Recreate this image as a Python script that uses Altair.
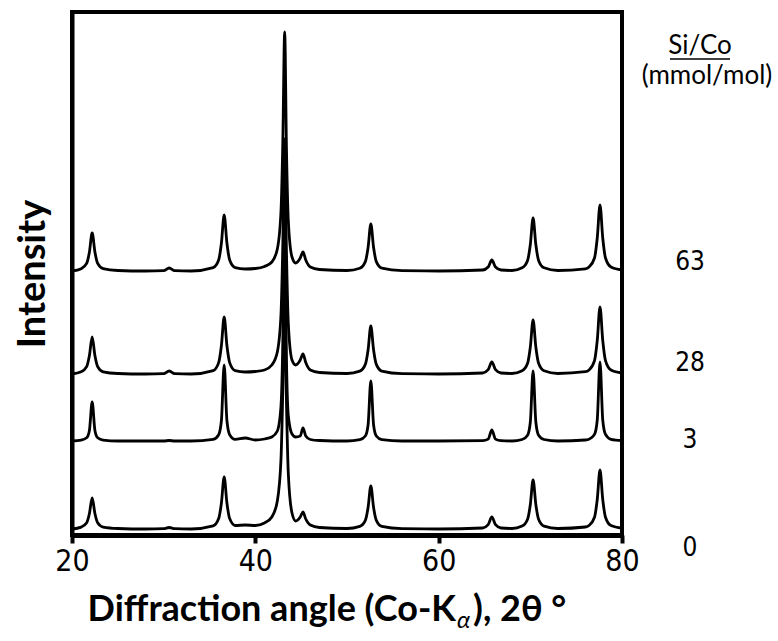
import altair as alt
import pandas as pd

# 2-theta sampling positions (degrees)
two_theta = [20.0, 21.0, 21.6, 21.9, 22.2, 22.5, 22.8, 23.4, 25.0, 28.0,
             30.0, 30.6, 31.2, 33.0, 35.4, 36.0, 36.3, 36.6, 36.9, 37.2,
             37.8, 38.9, 40.0, 41.0, 41.8, 42.4, 42.8, 43.0, 43.2, 43.4,
             43.6, 44.0, 44.4, 44.9, 45.2, 45.5, 46.0, 47.0, 50.0, 51.4,
             52.0, 52.3, 52.6, 52.9, 53.2, 53.8, 56.0, 60.0, 64.8, 65.4,
             65.8, 66.2, 66.8, 68.0, 69.1, 69.7, 70.0, 70.3, 70.6, 70.9,
             71.5, 73.0, 76.0, 76.4, 77.0, 77.3, 77.6, 77.9, 78.2, 78.8,
             80.0]

# intensities above each pattern's own baseline
i_0 = [0, 1.9, 6.2, 15.5, 31, 15.5, 6.2, 1.9, 0.5, 0,
       0.3, 1.5, 0.3, 0, 3.1, 10.4, 26, 52, 26, 10.4,
       3.5, 4, 3.5, 6, 12, 28, 70, 140, 235, 125,
       55, 16, 8, 12, 17, 10, 4, 1.5, 0.5, 2.6,
       8.6, 21.5, 43, 21.5, 8.6, 2.6, 0.3, 0, 1, 4.3,
       12, 4.3, 1, 0.5, 2.9, 9.8, 24.5, 49, 24.5, 9.8,
       2.9, 0.5, 2, 3.5, 11.8, 29.5, 59, 29.5, 11.8, 3.5,
       1]
i_3 = [0, 0.9, 3.2, 10.5, 39, 10.5, 3.2, 0.9, 0, 0,
       0, 0.5, 0, 0, 1.7, 6.3, 20.5, 76, 20.5, 6.3,
       1.7, 3, 1, 2, 4, 10, 35, 100, 235, 80,
       25, 7, 4, 5, 13, 5, 1.5, 0.5, 0, 1.3,
       5, 16, 60, 16, 5, 1.3, 0, 0, 0.3, 1.9,
       11, 1.9, 0.3, 0, 1.5, 5.8, 19, 70, 19, 5.8,
       1.5, 0, 1, 1.7, 6.6, 21, 79, 21, 6.6, 1.7,
       0.5]
i_28 = [0, 2.2, 7.4, 18.5, 37, 18.5, 7.4, 2.2, 0.5, 0,
        0.3, 3, 0.3, 0, 3.4, 11.4, 28.5, 57, 28.5, 11.4,
        3.4, 2, 2.5, 4, 9, 22, 60, 130, 235, 120,
        50, 14, 9, 14, 20, 11.5, 4, 1.5, 0.5, 2.9,
        9.6, 24, 48, 24, 9.6, 2.9, 0.3, 0, 1, 4.3,
        12, 4.3, 1, 0.5, 3.2, 10.8, 27, 54, 27, 10.8,
        3.2, 0.5, 2.3, 4, 13.4, 33.5, 67, 33.5, 13.4, 4,
        1]
i_63 = [0, 2.3, 7.6, 19, 38, 19, 7.6, 2.3, 0.5, 0,
        0.3, 3, 0.3, 0, 3.4, 11, 28, 56, 28, 11,
        3.4, 2, 2.5, 4.5, 9, 22, 60, 130, 239, 120,
        50, 14, 8, 13, 19, 11, 4, 1.5, 0.5, 2.8,
        9.4, 23.5, 47, 23.5, 9.4, 2.8, 0.3, 0, 1, 4,
        11, 4, 1, 0.5, 3.2, 10.6, 26.5, 53, 26.5, 10.6,
        3.2, 0.5, 2.2, 4, 13, 33, 66, 33, 13, 4,
        1]

si_co = ["0", "3", "28", "63"]
offsets = [6, 94, 161, 264]          # vertical stacking offsets
label_y = [-13, 95, 172, 273]        # where each Si/Co value is written
x_ticks = [20, 40, 60, 80]

rows = []
for lab, off, series in zip(si_co, offsets, [i_0, i_3, i_28, i_63]):
    for t, v in zip(two_theta, series):
        rows.append({"two_theta": t, "intensity": v + off, "sample": lab})
df = pd.DataFrame(rows)
labels_df = pd.DataFrame({"sample": si_co, "label_y": label_y})

W, H = 550, 523
NUM_FONT = "Liberation Sans Narrow, Arial Narrow, DejaVu Sans Condensed, Liberation Sans"
TXT_FONT = "Lato"
xscale = alt.Scale(domain=[20, 80], nice=False, zero=False)
yscale = alt.Scale(domain=[0, 523], nice=False, zero=False)

lines = alt.Chart(df).mark_line(color="black", strokeWidth=2.8,
                                interpolate="monotone").encode(
    x=alt.X("two_theta:Q", scale=xscale,
            axis=alt.Axis(values=x_ticks, title="", grid=False,
                          labelFontSize=30, labelFont=NUM_FONT, labelFlush=False,
                          labelColor="black", labelPadding=3,
                          tickColor="black", tickWidth=4, tickSize=8,
                          domainColor="black", domainWidth=5)),
    y=alt.Y("intensity:Q", scale=yscale,
            axis=alt.Axis(title="Intensity", labels=False, ticks=False, grid=False,
                          domainColor="black", domainWidth=4,
                          titleFont=TXT_FONT, titleFontWeight="bold",
                          titleFontSize=38, titleColor="black", titlePadding=20)),
    detail="sample:N",
)

frame = alt.Chart(pd.DataFrame({"t": [0]})).mark_rect(
    fill="transparent", stroke="black", strokeWidth=4).encode(
    x=alt.value(0), x2=alt.value(W), y=alt.value(0), y2=alt.value(H))

value_labels = alt.Chart(labels_df).mark_text(
    fontSize=26, font=NUM_FONT, color="black", align="center",
    baseline="middle").encode(
    x=alt.value(618),
    y=alt.Y("label_y:Q", scale=yscale),
    text="sample:N",
)

def txt(s, x, y, size, weight="normal", align="left", style="normal"):
    return alt.Chart(pd.DataFrame({"t": [s]})).mark_text(
        fontSize=size, font=TXT_FONT, fontWeight=weight, fontStyle=style,
        color="black", align=align, baseline="alphabetic").encode(
        x=alt.value(x), y=alt.value(y), text="t:N")

head1 = txt("Si/Co", 628, 42, 26, align="center")
head2 = txt("(mmol/mol)", 635, 72, 26, align="center")
underline = alt.Chart(pd.DataFrame({"t": [0]})).mark_rule(
    color="black", strokeWidth=1.5).encode(
    x=alt.value(598), x2=alt.value(658), y=alt.value(47))

xt1 = txt("Diffraction angle (Co-K", 384, 609, 36, weight="bold", align="right")
xt2 = txt("α", 385, 616, 24, style="italic")
xt3 = txt("), 2θ °", 401, 609, 36, weight="bold")

chart = alt.layer(lines, frame, value_labels, head1, head2, underline,
                  xt1, xt2, xt3).properties(
    width=W, height=H,
    padding={"left": 72, "top": 12, "right": 156, "bottom": 106},
    autosize=alt.AutoSizeParams(type="none"),
).configure_view(stroke=None).configure(background="white")

chart.save("out.html", embed_options={"renderer": "svg", "actions": False})
